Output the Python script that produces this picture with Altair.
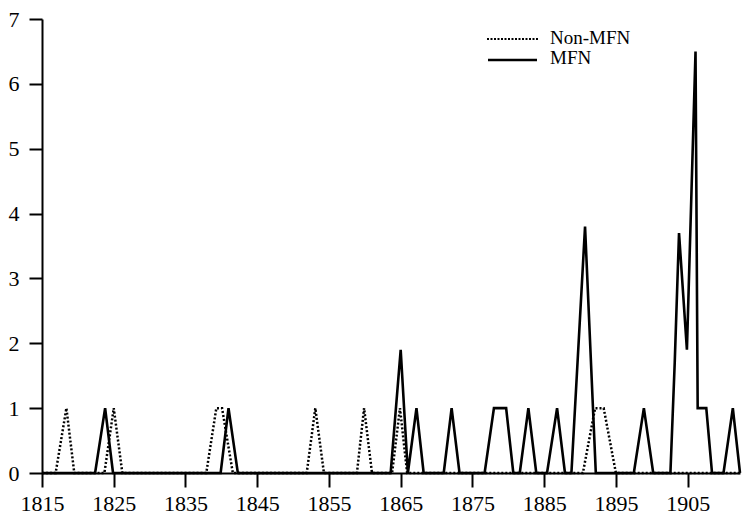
import altair as alt
import pandas as pd

# Years (x) and values (y)
non_mfn_year = [1815, 1816.9, 1818.4, 1819.5, 1823.7, 1825.0, 1826.2, 1837.9, 1839.3, 1840.1,
                1841.6, 1851.9, 1853.1, 1854.3, 1858.9, 1859.9, 1861.0, 1863.8, 1864.9, 1865.9,
                1890.4, 1892.1, 1893.3, 1895.0, 1912.3]
non_mfn_value = [0, 0, 1, 0, 0, 1, 0, 0, 1, 1,
                 0, 0, 1, 0, 0, 1, 0, 0, 1, 0,
                 0, 1, 1, 0, 0]

mfn_year = [1815, 1822.4, 1823.8, 1824.9, 1839.9, 1841.0, 1842.3, 1863.6, 1865.0, 1866.0,
            1867.2, 1868.2, 1871.0, 1872.1, 1873.2, 1876.7, 1878.0, 1879.7, 1880.7, 1881.6,
            1882.8, 1883.9, 1885.4, 1886.8, 1887.9, 1888.8, 1890.7, 1892.2, 1897.5, 1898.9,
            1900.2, 1902.6, 1903.2, 1903.8, 1904.9, 1906.1, 1906.4, 1907.6, 1908.4, 1910.0,
            1911.3, 1912.3]
mfn_value = [0, 0, 1, 0, 0, 1, 0, 0, 1.9, 0,
             1, 0, 0, 1, 0, 0, 1, 1, 0, 0,
             1, 0, 0, 1, 0, 0, 3.8, 0, 0, 1,
             0, 0, 1.7, 3.7, 1.9, 6.5, 1, 1, 0, 0,
             1, 0]

x_ticks = [1815, 1825, 1835, 1845, 1855, 1865, 1875, 1885, 1895, 1905]
y_ticks = [0, 1, 2, 3, 4, 5, 6, 7]
legend_labels = ["Non-MFN", "MFN"]

df_non = pd.DataFrame({"year": non_mfn_year, "value": non_mfn_value,
                       "i": range(len(non_mfn_year))})
df_mfn = pd.DataFrame({"year": mfn_year, "value": mfn_value,
                       "i": range(len(mfn_year))})

FONT = "Liberation Serif"
H = 454

xscale = alt.Scale(domain=[1815, 1912.3], nice=False, zero=False)
yscale = alt.Scale(domain=[0, 7], nice=False)

xaxis = alt.Axis(values=x_ticks, format="d", title=None, grid=False, ticks=True,
                 tickSize=14, tickWidth=2, tickColor="black",
                 domainWidth=2, domainColor="black",
                 labelFont=FONT, labelFontSize=22, labelColor="black",
                 labelPadding=6, labelFlush=False, labelOverlap=False)
yaxis = alt.Axis(values=y_ticks, format="d", title=None, grid=False, ticks=True,
                 tickSize=13, tickWidth=2, tickColor="black",
                 domainWidth=2, domainColor="black",
                 labelFont=FONT, labelFontSize=22, labelColor="black",
                 labelPadding=10)

non_line = alt.Chart(df_non).mark_line(color="black", strokeWidth=2.5,
                                       strokeDash=[2, 2]).encode(
    x=alt.X("year:Q", scale=xscale, axis=xaxis),
    y=alt.Y("value:Q", scale=yscale, axis=yaxis),
    order="i:Q",
)

mfn_line = alt.Chart(df_mfn).mark_line(color="black", strokeWidth=2.6).encode(
    x=alt.X("year:Q", scale=xscale, axis=xaxis),
    y=alt.Y("value:Q", scale=yscale, axis=yaxis),
    order="i:Q",
)

leg_non = alt.Chart(pd.DataFrame({"a": [0]})).mark_rule(
    color="black", strokeWidth=2, strokeDash=[2, 1.5]).encode(
    x=alt.value(445), x2=alt.value(496), y=alt.value(20))
leg_mfn = alt.Chart(pd.DataFrame({"a": [0]})).mark_rule(
    color="black", strokeWidth=2.5).encode(
    x=alt.value(446), x2=alt.value(495), y=alt.value(41))
leg_t1 = alt.Chart(pd.DataFrame({"t": [legend_labels[0]]})).mark_text(
    font=FONT, fontSize=19, align="left", baseline="middle", color="black").encode(
    x=alt.value(508), y=alt.value(19), text="t:N")
leg_t2 = alt.Chart(pd.DataFrame({"t": [legend_labels[1]]})).mark_text(
    font=FONT, fontSize=19, align="left", baseline="middle", color="black").encode(
    x=alt.value(508), y=alt.value(39), text="t:N")

chart = alt.layer(non_line, mfn_line,
                  leg_non, leg_mfn, leg_t1, leg_t2).properties(
    width=698, height=H,
    autosize=alt.AutoSizeParams(type="none"),
    padding={"left": 34, "top": 11, "right": 5, "bottom": 46},
    background="white",
).configure_view(stroke=None)

chart.save("out.html", embed_options={"renderer": "svg", "actions": False})
